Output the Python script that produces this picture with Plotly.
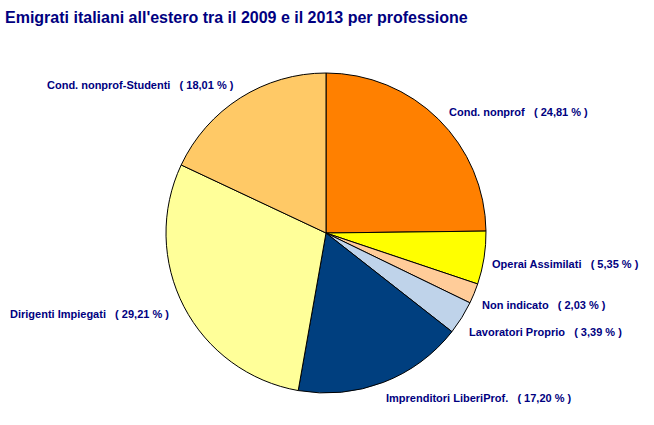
import plotly.graph_objects as go

categories = ["Cond. nonprof", "Operai Assimilati", "Non indicato", "Lavoratori Proprio",
              "Imprenditori LiberiProf.", "Dirigenti Impiegati", "Cond. nonprof-Studenti"]
values = [24.81, 5.35, 2.03, 3.39, 17.20, 29.21, 18.01]
colors = ["#FF8000", "#FFFF00", "#FFCC99", "#BFD3EA", "#003F7F", "#FFFF99", "#FFC966"]

W, H = 654, 425
FONT = "Liberation Sans, Arial, sans-serif"
# label placement (pixels): x, y, xanchor
label_pos = [(447, 112, "left"), (490, 264, "left"), (480, 305, "left"), (467, 332, "left"),
             (384, 398, "left"), (171, 314, "right"), (236, 85, "right")]

fig = go.Figure(go.Pie(
    labels=categories, values=values, sort=False, direction="clockwise", rotation=0,
    marker=dict(colors=colors, line=dict(color="#000000", width=1)),
    textinfo="none", hoverinfo="label+percent",
    domain=dict(x=[166 / W, 486 / W], y=[32 / H, 352 / H]),
    showlegend=False,
))

for cat, v, (px, py, xa) in zip(categories, values, label_pos):
    pct = f"{v:.2f}".replace(".", ",")
    txt = f"<b>{cat}\u00a0\u00a0\u00a0(\u00a0{pct}\u00a0%\u00a0)</b>"
    fig.add_annotation(x=px / W, y=1 - py / H, xref="paper", yref="paper", text=txt,
                       showarrow=False, xanchor=xa, yanchor="middle",
                       font=dict(family=FONT, size=11, color="#000080"))

fig.add_annotation(x=3 / W, y=1 - 17 / H, xref="paper", yref="paper",
                   text="<b>Emigrati italiani all'estero tra il 2009 e il 2013 per professione</b>",
                   showarrow=False, xanchor="left", yanchor="middle",
                   font=dict(family=FONT, size=16, color="#000080"))

fig.update_layout(width=W, height=H, margin=dict(l=0, r=0, t=0, b=0),
                  paper_bgcolor="white", plot_bgcolor="white",
                  font=dict(family=FONT))

fig.write_html("out.html", config={"displayModeBar": False},
               post_script="document.body.style.margin='0';document.body.style.padding='0';")
